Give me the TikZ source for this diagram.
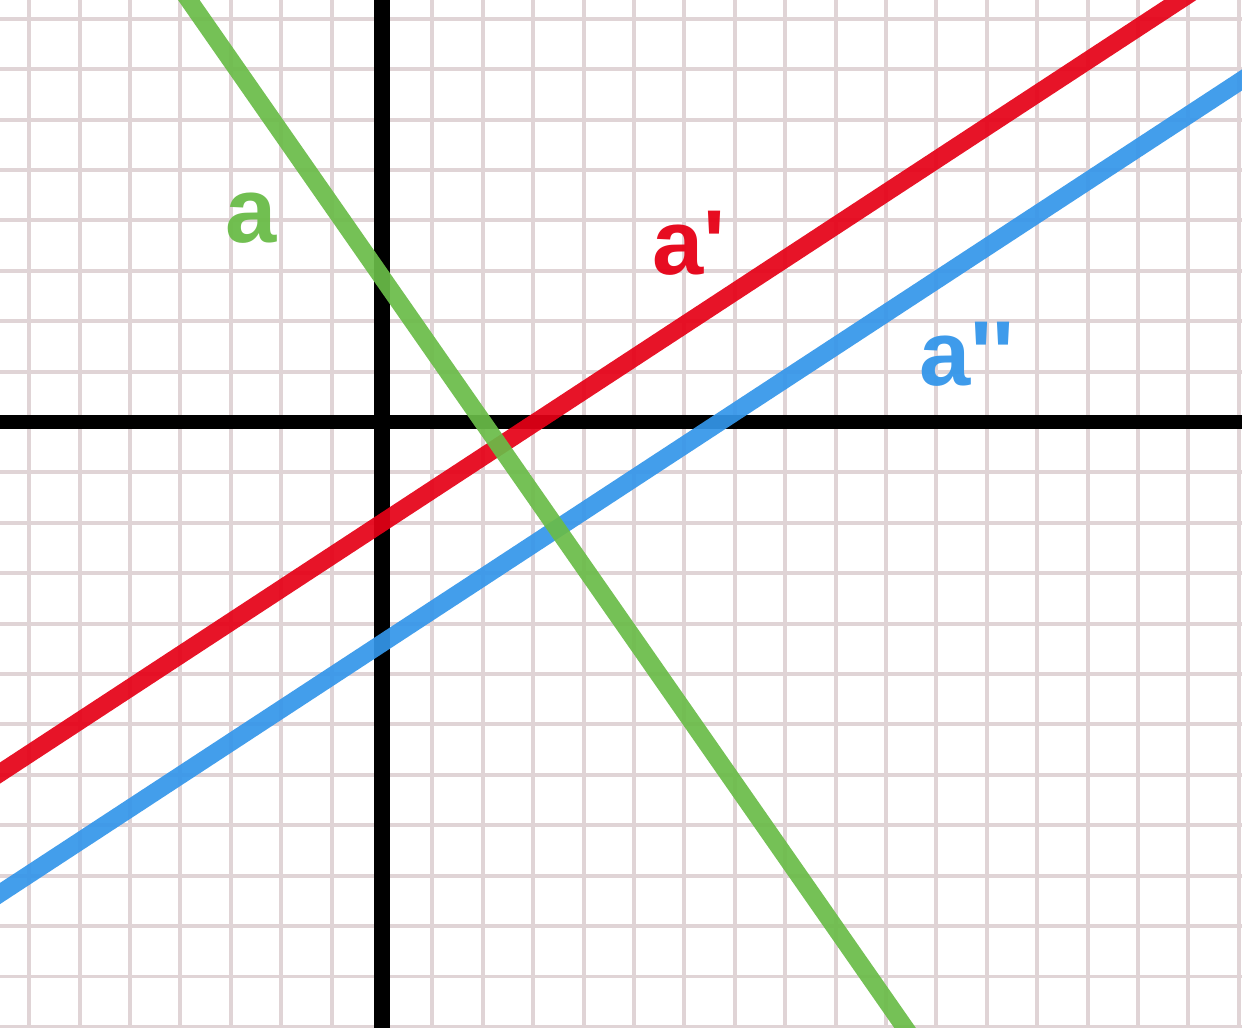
\documentclass[tikz,border=0pt]{standalone}
\usepackage{fontspec}
\newfontfamily\lblfont[Ligatures=TeXOff]{Liberation Sans}
\definecolor{gridpink}{RGB}{224,212,214}
\definecolor{lgreen}{RGB}{106,188,72}
\definecolor{lred}{RGB}{230,0,22}
\definecolor{lblue}{RGB}{52,150,234}
\tikzset{
  gridline/.style={gridpink, line width=2.2pt},
  axisline/.style={black, line width=#1},
  graphline/.style={#1, line width=10pt, opacity=0.92},
  linelabel/.style={#1, anchor=base west, inner sep=0pt, opacity=0.95,
    font=\lblfont\bfseries\fontsize{52}{52}\selectfont}
}

\begin{document}
\begin{tikzpicture}
\useasboundingbox (-7.579,-12.004) rectangle (17.063,8.373);
\clip (-7.579,-12.004) rectangle (17.063,8.373);
\fill[white] (-7.579,-12.004) rectangle (17.063,8.373);
\draw[gridline] (-8,-13) grid (18,9);
% axes
\coordinate (xl) at (-8,0);
\coordinate (xr) at (18,0);
\coordinate (yb) at (0,-13);
\coordinate (yt) at (0,9);
\draw[axisline=7.6pt] (xl) -- (xr);
\draw[axisline=9pt] (yb) -- (yt);
% the three lines
\coordinate (R1) at (-8,-7.24);
\coordinate (R2) at (18,9.79);
\coordinate (B1) at (-8,-9.63);
\coordinate (B2) at (18,7.40);
\coordinate (G1) at (-4.27,9);
\coordinate (G2) at (11.06,-13);
\draw[graphline=lred] (R1) -- (R2);
\draw[graphline=lblue] (B1) -- (B2);
\draw[graphline=lgreen] (G1) -- (G2);
\node[linelabel=lgreen] (la) at (-3.115,3.56) {a};
\node[linelabel=lred] (la1) at (5.357,2.917) {a'};
\node[linelabel=lblue] (la2) at (10.655,0.734) {a''};
\end{tikzpicture}
\end{document}
